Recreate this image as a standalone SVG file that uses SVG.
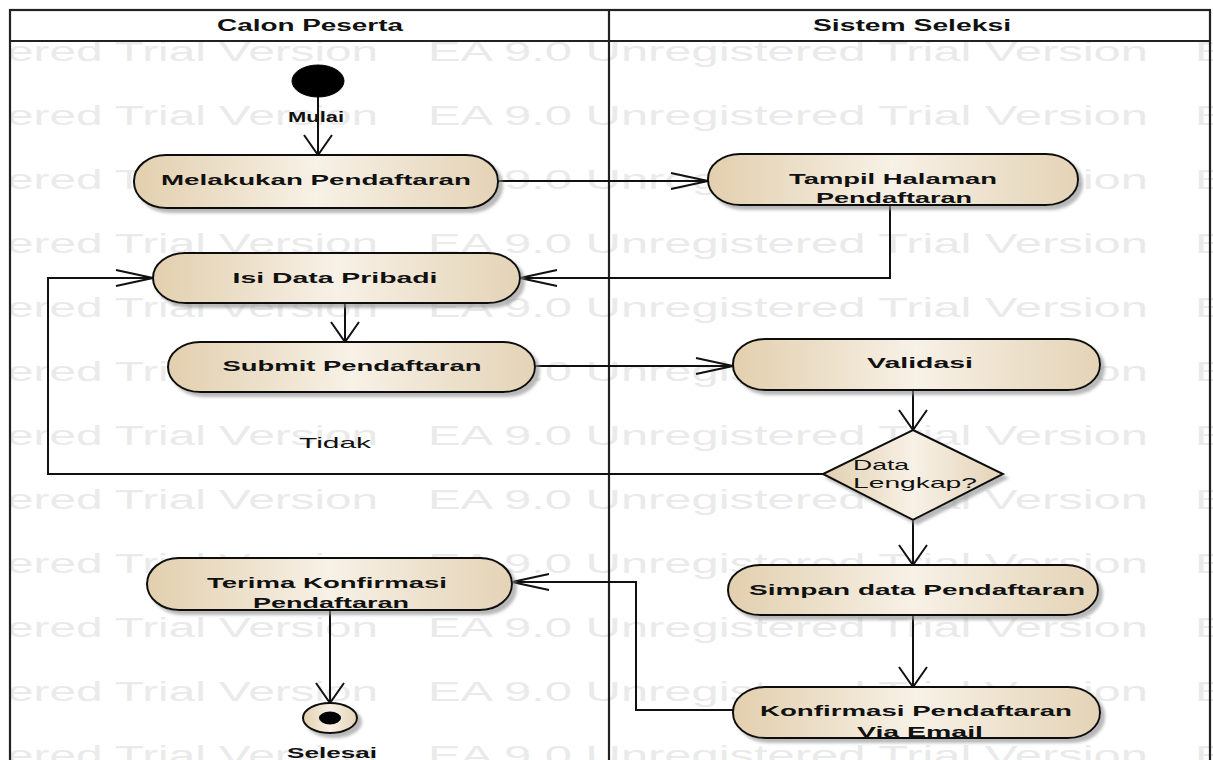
<svg xmlns="http://www.w3.org/2000/svg" width="1213" height="760" viewBox="0 0 1213 760">
<defs>
  <linearGradient id="beige" x1="0" y1="0" x2="1" y2="0">
    <stop offset="0" stop-color="#e2cfae"/>
    <stop offset="0.5" stop-color="#f7f1e6"/>
    <stop offset="1" stop-color="#e4d3b6"/>
  </linearGradient>
  <filter id="shadow" x="-10%" y="-20%" width="125%" height="160%">
    <feDropShadow dx="4" dy="4" stdDeviation="1.5" flood-color="#8a8a8a" flood-opacity="0.6"/>
  </filter>
  <marker id="arrH" markerUnits="userSpaceOnUse" markerWidth="40" markerHeight="20" viewBox="0 0 40 20" refX="38" refY="10" orient="auto" overflow="visible">
    <path d="M1,2 L38,10 L1,18" fill="none" stroke="#111" stroke-width="2"/>
  </marker>
  <marker id="arrV" markerUnits="userSpaceOnUse" markerWidth="22" markerHeight="30" viewBox="0 0 22 30" refX="21" refY="15" orient="auto" overflow="visible">
    <path d="M1,1 L21,15 L1,29" fill="none" stroke="#111" stroke-width="2"/>
  </marker>
  <style>
    .wm { font-family: "Liberation Sans", Arial, sans-serif; font-size: 28px; fill: #eaeaea; }
    .node { fill: url(#beige); stroke: #111; stroke-width: 2; filter: url(#shadow); }
    .lbl { font-family: "Liberation Sans", Arial, sans-serif; font-size: 15px; font-weight: bold; fill: #111; text-anchor: middle; }
    .reg { font-family: "Liberation Sans", Arial, sans-serif; font-size: 15px; fill: #111; }
    .hdr { font-family: "Liberation Sans", Arial, sans-serif; font-size: 16px; font-weight: bold; fill: #111; text-anchor: middle; }
    .conn { fill: none; stroke: #111; stroke-width: 2; }
    .frame { fill: none; stroke: #222; stroke-width: 2.2; }
  </style>
</defs>
<rect width="1213" height="760" fill="#ffffff"/>

<g id="watermark">
  <g transform="translate(0,61)">
    <text class="wm" x="7" y="0" textLength="371" lengthAdjust="spacingAndGlyphs">ered Trial Version</text>
    <text class="wm" x="428" y="0" textLength="720" lengthAdjust="spacingAndGlyphs">EA 9.0 Unregistered Trial Version</text>
    <text class="wm" x="1195" y="0" textLength="32" lengthAdjust="spacingAndGlyphs">E</text>
  </g>
  <g transform="translate(0,125)">
    <text class="wm" x="7" y="0" textLength="371" lengthAdjust="spacingAndGlyphs">ered Trial Version</text>
    <text class="wm" x="428" y="0" textLength="720" lengthAdjust="spacingAndGlyphs">EA 9.0 Unregistered Trial Version</text>
    <text class="wm" x="1195" y="0" textLength="32" lengthAdjust="spacingAndGlyphs">E</text>
  </g>
  <g transform="translate(0,189)">
    <text class="wm" x="7" y="0" textLength="371" lengthAdjust="spacingAndGlyphs">ered Trial Version</text>
    <text class="wm" x="428" y="0" textLength="720" lengthAdjust="spacingAndGlyphs">EA 9.0 Unregistered Trial Version</text>
    <text class="wm" x="1195" y="0" textLength="32" lengthAdjust="spacingAndGlyphs">E</text>
  </g>
  <g transform="translate(0,253)">
    <text class="wm" x="7" y="0" textLength="371" lengthAdjust="spacingAndGlyphs">ered Trial Version</text>
    <text class="wm" x="428" y="0" textLength="720" lengthAdjust="spacingAndGlyphs">EA 9.0 Unregistered Trial Version</text>
    <text class="wm" x="1195" y="0" textLength="32" lengthAdjust="spacingAndGlyphs">E</text>
  </g>
  <g transform="translate(0,317)">
    <text class="wm" x="7" y="0" textLength="371" lengthAdjust="spacingAndGlyphs">ered Trial Version</text>
    <text class="wm" x="428" y="0" textLength="720" lengthAdjust="spacingAndGlyphs">EA 9.0 Unregistered Trial Version</text>
    <text class="wm" x="1195" y="0" textLength="32" lengthAdjust="spacingAndGlyphs">E</text>
  </g>
  <g transform="translate(0,381)">
    <text class="wm" x="7" y="0" textLength="371" lengthAdjust="spacingAndGlyphs">ered Trial Version</text>
    <text class="wm" x="428" y="0" textLength="720" lengthAdjust="spacingAndGlyphs">EA 9.0 Unregistered Trial Version</text>
    <text class="wm" x="1195" y="0" textLength="32" lengthAdjust="spacingAndGlyphs">E</text>
  </g>
  <g transform="translate(0,445)">
    <text class="wm" x="7" y="0" textLength="371" lengthAdjust="spacingAndGlyphs">ered Trial Version</text>
    <text class="wm" x="428" y="0" textLength="720" lengthAdjust="spacingAndGlyphs">EA 9.0 Unregistered Trial Version</text>
    <text class="wm" x="1195" y="0" textLength="32" lengthAdjust="spacingAndGlyphs">E</text>
  </g>
  <g transform="translate(0,509)">
    <text class="wm" x="7" y="0" textLength="371" lengthAdjust="spacingAndGlyphs">ered Trial Version</text>
    <text class="wm" x="428" y="0" textLength="720" lengthAdjust="spacingAndGlyphs">EA 9.0 Unregistered Trial Version</text>
    <text class="wm" x="1195" y="0" textLength="32" lengthAdjust="spacingAndGlyphs">E</text>
  </g>
  <g transform="translate(0,573)">
    <text class="wm" x="7" y="0" textLength="371" lengthAdjust="spacingAndGlyphs">ered Trial Version</text>
    <text class="wm" x="428" y="0" textLength="720" lengthAdjust="spacingAndGlyphs">EA 9.0 Unregistered Trial Version</text>
    <text class="wm" x="1195" y="0" textLength="32" lengthAdjust="spacingAndGlyphs">E</text>
  </g>
  <g transform="translate(0,637)">
    <text class="wm" x="7" y="0" textLength="371" lengthAdjust="spacingAndGlyphs">ered Trial Version</text>
    <text class="wm" x="428" y="0" textLength="720" lengthAdjust="spacingAndGlyphs">EA 9.0 Unregistered Trial Version</text>
    <text class="wm" x="1195" y="0" textLength="32" lengthAdjust="spacingAndGlyphs">E</text>
  </g>
  <g transform="translate(0,701)">
    <text class="wm" x="7" y="0" textLength="371" lengthAdjust="spacingAndGlyphs">ered Trial Version</text>
    <text class="wm" x="428" y="0" textLength="720" lengthAdjust="spacingAndGlyphs">EA 9.0 Unregistered Trial Version</text>
    <text class="wm" x="1195" y="0" textLength="32" lengthAdjust="spacingAndGlyphs">E</text>
  </g>
  <g transform="translate(0,765)">
    <text class="wm" x="7" y="0" textLength="371" lengthAdjust="spacingAndGlyphs">ered Trial Version</text>
    <text class="wm" x="428" y="0" textLength="720" lengthAdjust="spacingAndGlyphs">EA 9.0 Unregistered Trial Version</text>
    <text class="wm" x="1195" y="0" textLength="32" lengthAdjust="spacingAndGlyphs">E</text>
  </g>
</g>

<g id="swimlanes">
  <rect class="frame" x="10" y="10" width="1200" height="800"/>
  <line class="frame" x1="10" y1="41" x2="1210" y2="41"/>
  <line class="frame" x1="609" y1="10" x2="609" y2="770"/>
  <text class="hdr" x="310" y="31" textLength="186" lengthAdjust="spacingAndGlyphs">Calon Peserta</text>
  <text class="hdr" x="912" y="31" textLength="198" lengthAdjust="spacingAndGlyphs">Sistem Seleksi</text>
</g>

<g id="connectors">
  <path class="conn" d="M318,97 L318,155" marker-end="url(#arrV)"/>
  <path class="conn" d="M498,181 L708,181" marker-end="url(#arrH)"/>
  <path class="conn" d="M890,205 L890,278 L520,278" marker-end="url(#arrH)"/>
  <path class="conn" d="M345,303 L345,342" marker-end="url(#arrV)"/>
  <path class="conn" d="M535,366 L733,366" marker-end="url(#arrH)"/>
  <path class="conn" d="M913,390 L913,430" marker-end="url(#arrV)"/>
  <path class="conn" d="M823,474 L48,474 L48,278 L153,278" marker-end="url(#arrH)"/>
  <path class="conn" d="M913,520 L913,565" marker-end="url(#arrV)"/>
  <path class="conn" d="M913,615 L913,687" marker-end="url(#arrV)"/>
  <path class="conn" d="M733,710 L636,710 L636,582 L512,582" marker-end="url(#arrH)"/>
  <path class="conn" d="M330,610 L330,703" marker-end="url(#arrV)"/>
  <text class="reg" x="288" y="122" textLength="56" lengthAdjust="spacingAndGlyphs" style="font-weight:bold">Mulai</text>
  <text class="reg" x="299" y="448" textLength="72" lengthAdjust="spacingAndGlyphs">Tidak</text>
  <text class="reg" x="287" y="758" textLength="90" lengthAdjust="spacingAndGlyphs" style="font-weight:bold">Selesai</text>
</g>

<g id="start">
  <ellipse cx="318" cy="81" rx="26" ry="16" fill="#000" stroke="#000" stroke-width="1"/>
</g>

<g id="melakukan-pendaftaran">
  <rect class="node" x="134" y="155" width="364" height="53" rx="32" ry="26"/>
  <text class="lbl" x="316" y="185" textLength="310" lengthAdjust="spacingAndGlyphs">Melakukan Pendaftaran</text>
</g>

<g id="tampil-halaman">
  <rect class="node" x="708" y="154" width="370" height="51" rx="32" ry="25"/>
  <text class="lbl" x="893" y="184" textLength="208" lengthAdjust="spacingAndGlyphs">Tampil Halaman</text>
  <text class="lbl" x="894" y="203" textLength="156" lengthAdjust="spacingAndGlyphs">Pendaftaran</text>
</g>

<g id="isi-data">
  <rect class="node" x="153" y="253" width="367" height="50" rx="32" ry="25"/>
  <text class="lbl" x="335" y="283" textLength="205" lengthAdjust="spacingAndGlyphs">Isi Data Pribadi</text>
</g>

<g id="submit">
  <rect class="node" x="168" y="342" width="367" height="50" rx="32" ry="25"/>
  <text class="lbl" x="352" y="371" textLength="259" lengthAdjust="spacingAndGlyphs">Submit Pendaftaran</text>
</g>

<g id="validasi">
  <rect class="node" x="733" y="339" width="367" height="51" rx="32" ry="25"/>
  <text class="lbl" x="920" y="368" textLength="106" lengthAdjust="spacingAndGlyphs">Validasi</text>
</g>

<g id="data-lengkap">
  <polygon class="node" points="913,430 1003,474 913,520 823,474"/>
  <text class="reg" x="853" y="470" textLength="56" lengthAdjust="spacingAndGlyphs">Data</text>
  <text class="reg" x="853" y="488" textLength="124" lengthAdjust="spacingAndGlyphs">Lengkap?</text>
</g>

<g id="simpan">
  <rect class="node" x="728" y="565" width="370" height="50" rx="32" ry="25"/>
  <text class="lbl" x="917" y="595" textLength="336" lengthAdjust="spacingAndGlyphs">Simpan data Pendaftaran</text>
</g>

<g id="konfirmasi-email">
  <rect class="node" x="733" y="687" width="367" height="51" rx="32" ry="25"/>
  <text class="lbl" x="916" y="716" textLength="312" lengthAdjust="spacingAndGlyphs">Konfirmasi Pendaftaran</text>
  <text class="lbl" x="920" y="737" textLength="126" lengthAdjust="spacingAndGlyphs">Via Email</text>
</g>

<g id="terima-konfirmasi">
  <rect class="node" x="147" y="558" width="365" height="52" rx="32" ry="26"/>
  <text class="lbl" x="327" y="588" textLength="240" lengthAdjust="spacingAndGlyphs">Terima Konfirmasi</text>
  <text class="lbl" x="331" y="608" textLength="156" lengthAdjust="spacingAndGlyphs">Pendaftaran</text>
</g>

<g id="end">
  <ellipse cx="330" cy="718" rx="27" ry="15" fill="url(#beige)" stroke="#111" stroke-width="2" filter="url(#shadow)"/>
  <ellipse cx="330" cy="718" rx="11" ry="6.5" fill="#000"/>
</g>
</svg>
